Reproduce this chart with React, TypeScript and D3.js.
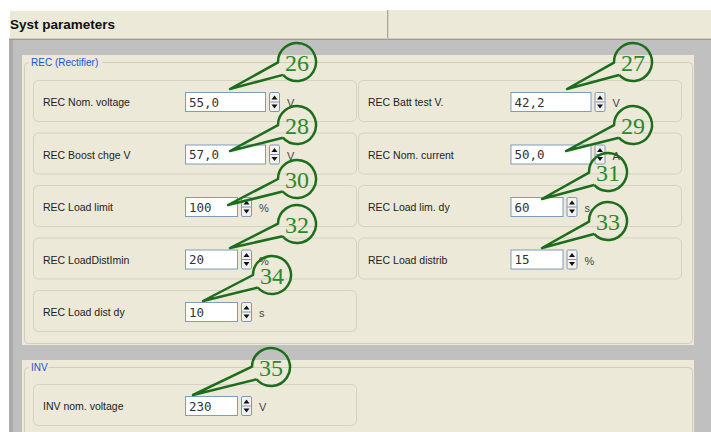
import React from "react";
import * as d3 from "d3";

// ---- data ----
const pageTitle = "Syst parameters";
const recGroupTitle = "REC (Rectifier)";
const invGroupTitle = "INV";

const recLabels = [
  "REC Nom. voltage", "REC Batt test V.",
  "REC Boost chge V", "REC Nom. current",
  "REC Load limit", "REC Load lim. dy",
  "REC LoadDistImin", "REC Load distrib",
  "REC Load dist dy",
];
const recValues = ["55,0", "42,2", "57,0", "50,0", "100", "60", "20", "15", "10"];
const recUnits = ["V", "V", "V", "A", "%", "s", "%", "%", "s"];
const recCallouts = [26, 27, 28, 29, 30, 31, 32, 33, 34];

const invLabels = ["INV nom. voltage"];
const invValues = ["230"];
const invUnits = ["V"];
const invCallouts = [35];

// callout placement relative to the input box (circle centre / pointer tip)
const recCalloutDx = [112, 122.5, 112, 122.5, 112, 97.5, 112, 97.5, 87];
const recCalloutDy = [-30, -30, -19.5, -19.5, -18, -25, -25.5, -28.5, -27];
const recTipDx = [45, 56.5, 45, 55.5, 43, 31.5, 45, 31.5, 18];
const recTipDy = [-3, -3, 6.5, 6.5, 8, 2, -1.5, -1.5, -1];
const invCalloutDx = [86];
const invCalloutDy = [-29];
const invTipDx = [8];
const invTipDy = [-1];

// ---- styles ----
const BEIGE = "#ECE9D8";
const GRAY = "#C0C0C0";
const LABEL_FONT = "'Liberation Sans', Arial, sans-serif";
const MONO_FONT = "'DejaVu Sans Mono', monospace";
const GREEN_STROKE = "#1C6E1C";
const GREEN_TEXT = "#2A8A2A";

const W = 711;
const H = 432;

const colX = d3.scaleOrdinal<number, number>().domain([0, 1]).range([33, 358]);
const recRowY = d3.scaleLinear().domain([0, 1]).range([80, 132.5]);
const invRowY = d3.scaleLinear().domain([0, 1]).range([384, 436.5]);

const BOX_W = 323;
const BOX_H = 41;
const INPUT_DX = 152;
const INPUT_DY = 12;
const INPUT_H = 19;

type Field = {
  label: string; value: string; unit: string; num: number;
  col: number; y: number;
  cdx: number; cdy: number; tdx: number; tdy: number;
};

function buildFields(): Field[] {
  const out: Field[] = [];
  recLabels.forEach((l, i) => {
    out.push({
      label: l, value: recValues[i], unit: recUnits[i], num: recCallouts[i],
      col: i % 2, y: recRowY(Math.floor(i / 2)),
      cdx: recCalloutDx[i], cdy: recCalloutDy[i], tdx: recTipDx[i], tdy: recTipDy[i],
    });
  });
  invLabels.forEach((l, i) => {
    out.push({
      label: l, value: invValues[i], unit: invUnits[i], num: invCallouts[i],
      col: i % 2, y: invRowY(Math.floor(i / 2)),
      cdx: invCalloutDx[i], cdy: invCalloutDy[i], tdx: invTipDx[i], tdy: invTipDy[i],
    });
  });
  return out;
}

function calloutPath(cx: number, cy: number, r: number, tx: number, ty: number) {
  const th = Math.atan2(ty - cy, tx - cx);
  const half = 0.36;
  const p = d3.path();
  p.moveTo(cx + r * Math.cos(th - half), cy + r * Math.sin(th - half));
  p.lineTo(tx, ty);
  p.lineTo(cx + r * Math.cos(th + half), cy + r * Math.sin(th + half));
  p.arc(cx, cy, r, th + half, th - half + 2 * Math.PI, false);
  return p.toString();
}

function FieldRow({ f }: { f: Field }) {
  const bx = colX(f.col);
  const by = f.y;
  const ix = bx + INPUT_DX + (f.col === 1 ? 0.5 : 0);
  const iy = by + INPUT_DY;
  const iw = f.value.includes(",") ? 80 : 52;
  const sx = ix + iw + 4;
  const sw = 11;
  const ux = sx + sw + 7;
  return (
    <g>
      <rect x={bx + 0.5} y={by + 0.5} width={BOX_W} height={BOX_H} rx={5}
        fill={BEIGE} stroke="#D6D2C1" />
      <text x={bx + 10} y={by + 26} fontFamily={LABEL_FONT} fontSize={10.5} fill="#222">{f.label}</text>
      <rect x={ix + 0.5} y={iy + 0.5} width={iw} height={INPUT_H} fill="#FFFFFF" stroke="#7F9DB9" />
      <text x={ix + 4} y={iy + 14.5} fontFamily={MONO_FONT} fontSize={12.5} fill="#333">{f.value}</text>
      <g>
        <rect x={sx + 0.5} y={iy + 0.5} width={sw - 1} height={INPUT_H} rx={1.5} fill="#F3F3EE" stroke="#7F96B8" />
        <line x1={sx + 1} x2={sx + sw - 1} y1={iy + 10} y2={iy + 10} stroke="#7F96B8" />
        <path d={`M${sx + 2.5},${iy + 7.5} L${sx + 8.5},${iy + 7.5} L${sx + 5.5},${iy + 3.5} Z`} fill="#111" />
        <path d={`M${sx + 2.5},${iy + 12.5} L${sx + 8.5},${iy + 12.5} L${sx + 5.5},${iy + 16.5} Z`} fill="#111" />
      </g>
      <text x={ux} y={iy + 15} fontFamily={LABEL_FONT} fontSize={11} fill="#444">{f.unit}</text>
    </g>
  );
}

function Callout({ f }: { f: Field }) {
  const bx = colX(f.col);
  const ix = bx + INPUT_DX + (f.col === 1 ? 0.5 : 0);
  const iy = f.y + INPUT_DY;
  const cx = ix + f.cdx;
  const cy = iy + f.cdy;
  const r = 19;
  return (
    <g>
      <path d={calloutPath(cx, cy, r, ix + f.tdx, iy + f.tdy)} fill="none"
        stroke={GREEN_STROKE} strokeWidth={2.5} strokeLinejoin="round" />
      <text x={cx} y={cy + 8.5} textAnchor="middle" fontFamily="'Liberation Serif', 'Times New Roman', serif"
        fontSize={24} fill={GREEN_TEXT}>{f.num}</text>
    </g>
  );
}

function GroupBox({ x, y, w, h, title }: { x: number; y: number; w: number; h: number; title: string }) {
  const tw = title.length * 4.5 + 6;
  return (
    <g>
      <rect x={x + 0.5} y={y + 0.5} width={w} height={h} rx={4} fill="none" stroke="#D0CDBA" />
      <rect x={x + 5} y={y - 4} width={tw} height={9} fill={BEIGE} />
      <text x={x + 7} y={y + 4} fontFamily={LABEL_FONT} fontSize={10} fill="#1F4FD8">{title}</text>
    </g>
  );
}

export default function App() {
  const fields = buildFields();
  return (
    <svg width={W} height={H} viewBox={`0 0 ${W} ${H}`}
      style={{ position: "absolute", left: 0, top: 0, display: "block", background: "#FFFFFF" }}>
      {/* header */}
      <rect x={9} y={10} width={W - 9} height={30} fill={BEIGE} />
      <line x1={9} x2={387} y1={10.5} y2={10.5} stroke="#FFFFFF" />
      <line x1={9.5} x2={9.5} y1={10} y2={39} stroke="#FFFFFF" />
      <line x1={387.5} x2={387.5} y1={10} y2={39} stroke="#ACA899" />
      <line x1={388.5} x2={388.5} y1={10} y2={39} stroke="#D8D5C6" />
      <line x1={9} x2={W} y1={38.5} y2={38.5} stroke="#CFCCBC" />
      <line x1={9} x2={W} y1={39.5} y2={39.5} stroke="#9E9C90" />
      <text x={10} y={29} fontFamily={LABEL_FONT} fontWeight="bold" fontSize={13.5} fill="#111">{pageTitle}</text>

      {/* gray client area */}
      <rect x={9} y={40} width={W - 9} height={H - 40} fill={GRAY} />
      <rect x={9} y={40} width={4} height={H - 40} fill="#ABABAB" />

      {/* REC panel */}
      <rect x={22} y={55} width={672} height={290} fill={BEIGE} />
      <GroupBox x={24} y={62} w={668} h={281} title={recGroupTitle} />

      {/* INV panel */}
      <rect x={22} y={360} width={672} height={H - 360} fill={BEIGE} />
      <GroupBox x={24} y={367} w={668} h={120} title={invGroupTitle} />

      {fields.map((f, i) => <FieldRow key={"r" + i} f={f} />)}
      {fields.map((f, i) => <Callout key={"c" + i} f={f} />)}
    </svg>
  );
}
